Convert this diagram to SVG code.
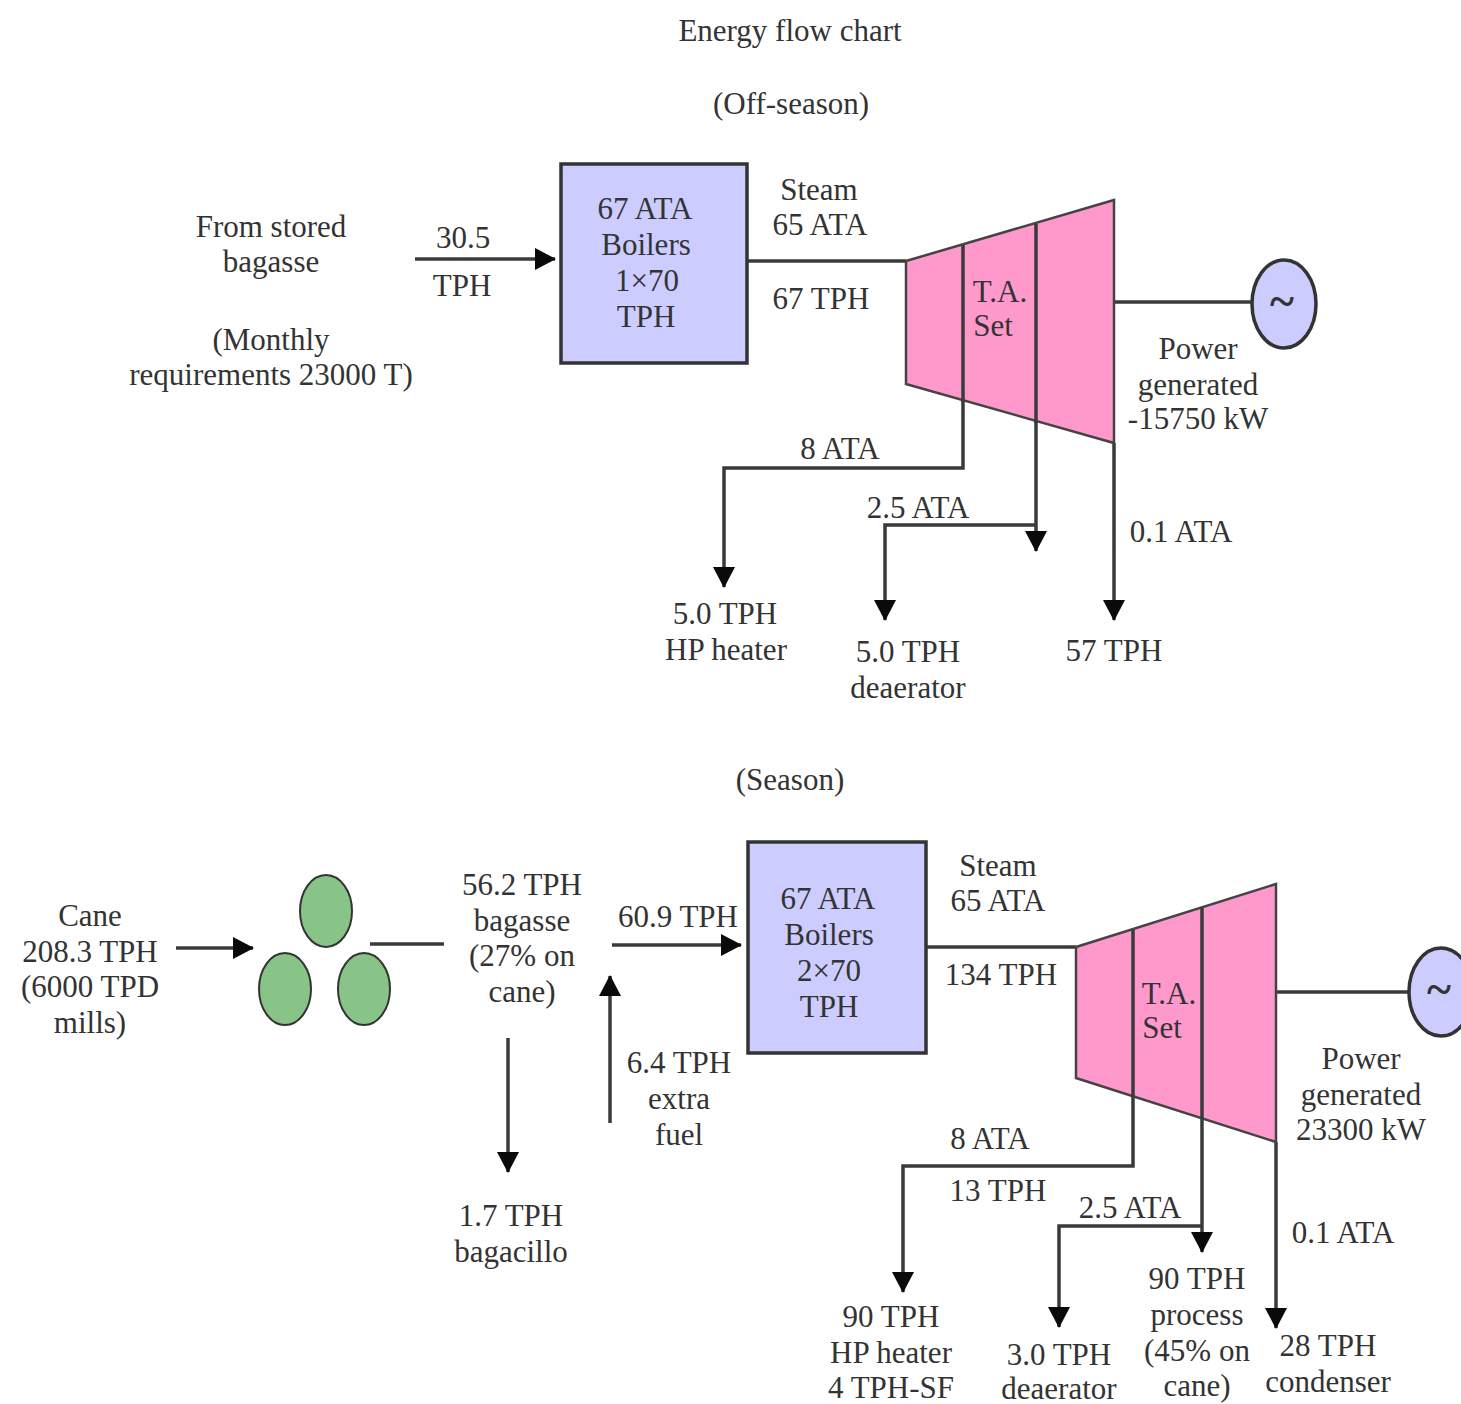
<svg xmlns="http://www.w3.org/2000/svg" width="1461" height="1404" viewBox="0 0 1461 1404">
<defs>
<marker id="a" markerUnits="userSpaceOnUse" markerWidth="24" markerHeight="24" refX="20" refY="11" orient="auto"><path d="M0 0L21 11L0 22Z" fill="#0a0a0a"/></marker>
</defs>
<style>
text{font-family:"Liberation Serif","Times New Roman",serif;font-size:31px;fill:#333;text-anchor:middle}
.l{fill:none;stroke:#3a3a3a;stroke-width:3.5}
.b{fill:#ccccff;stroke:#333;stroke-width:3.5}
.t{fill:#ff99cc;stroke:#444;stroke-width:2.5}
.g{fill:#88c488;stroke:#333;stroke-width:2}
.s{font-size:46px;font-weight:bold}
</style>
<rect width="1461" height="1404" fill="#fff"/>
<g id="titles"><text x="790" y="41">Energy flow chart</text><text x="791" y="114">(Off-season)</text><text x="790" y="790">(Season)</text></g>
<g id="connectors">
<path class="l" marker-end="url(#a)" d="M415 259H555"/>
<path class="l" d="M747 261H906"/>
<path class="l" d="M1114 302H1254"/>
<path class="l" marker-end="url(#a)" d="M963 385V468H724V587"/>
<path class="l" marker-end="url(#a)" d="M1036 420V551"/>
<path class="l" marker-end="url(#a)" d="M1036 525H885V620"/>
<path class="l" marker-end="url(#a)" d="M1114 443V620"/>
<path class="l" marker-end="url(#a)" d="M176 948H253"/>
<path class="l" d="M370 944H444"/>
<path class="l" marker-end="url(#a)" d="M612 945H741"/>
<path class="l" marker-end="url(#a)" d="M610 1123V976"/>
<path class="l" marker-end="url(#a)" d="M508 1038V1172"/>
<path class="l" d="M926 947H1076"/>
<path class="l" d="M1276 992H1411"/>
<path class="l" marker-end="url(#a)" d="M1133 1095V1166H903V1292"/>
<path class="l" marker-end="url(#a)" d="M1202 1120V1252"/>
<path class="l" marker-end="url(#a)" d="M1202 1226H1059V1327"/>
<path class="l" marker-end="url(#a)" d="M1276 1142V1328"/>
</g>
<g id="source-offseason"><text x="271" y="237">From stored</text><text x="271" y="272">bagasse</text><text x="271" y="350">(Monthly</text><text x="271" y="385">requirements 23000 T)</text><text x="463" y="248">30.5</text><text x="462" y="296">TPH</text></g>
<g id="boiler-offseason"><rect class="b" x="561" y="164" width="186" height="199"/><text x="645" y="219">67 ATA</text><text x="646" y="255">Boilers</text><text x="647" y="291">1×70</text><text x="646" y="327">TPH</text></g>
<g id="steam-offseason"><text x="819" y="200">Steam</text><text x="820" y="235">65 ATA</text><text x="821" y="309">67 TPH</text></g>
<g id="turbine-offseason"><path class="t" d="M906 261L1114 200V443L906 384Z"/><path class="l" d="M963 245V402M1036 224V423"/><text x="1000" y="302">T.A.</text><text x="993" y="336">Set</text></g>
<g id="generator-offseason"><ellipse class="b" cx="1284" cy="304" rx="32" ry="44"/><text class="s" x="1282" y="317">~</text></g>
<g id="power-offseason"><text x="1198" y="359">Power</text><text x="1198" y="395">generated</text><text x="1198" y="429">-15750 kW</text></g>
<g id="outputs-offseason"><text x="840" y="459">8 ATA</text><text x="918" y="518">2.5 ATA</text><text x="1181" y="542">0.1 ATA</text><text x="725" y="624">5.0 TPH</text><text x="726" y="660">HP heater</text><text x="908" y="662">5.0 TPH</text><text x="908" y="698">deaerator</text><text x="1114" y="661">57 TPH</text></g>
<g id="cane"><text x="90" y="926">Cane</text><text x="90" y="962">208.3 TPH</text><text x="90" y="997">(6000 TPD</text><text x="90" y="1033">mills)</text></g>
<g id="mills"><ellipse class="g" cx="326" cy="911" rx="26" ry="36"/><ellipse class="g" cx="285" cy="989" rx="26" ry="36"/><ellipse class="g" cx="364" cy="989" rx="26" ry="36"/></g>
<g id="bagasse"><text x="522" y="895">56.2 TPH</text><text x="522" y="931">bagasse</text><text x="522" y="966">(27% on</text><text x="522" y="1002">cane)</text><text x="678" y="927">60.9 TPH</text><text x="679" y="1073">6.4 TPH</text><text x="679" y="1109">extra</text><text x="679" y="1145">fuel</text><text x="511" y="1226">1.7 TPH</text><text x="511" y="1262">bagacillo</text></g>
<g id="boiler-season"><rect class="b" x="748" y="842" width="178" height="211"/><text x="828" y="909">67 ATA</text><text x="829" y="945">Boilers</text><text x="829" y="981">2×70</text><text x="829" y="1017">TPH</text></g>
<g id="steam-season"><text x="998" y="876">Steam</text><text x="998" y="911">65 ATA</text><text x="1001" y="985">134 TPH</text></g>
<g id="turbine-season"><path class="t" d="M1076 947L1276 884V1142L1076 1078Z"/><path class="l" d="M1133 930V1097M1202 907V1120"/><text x="1169" y="1004">T.A.</text><text x="1162" y="1038">Set</text></g>
<g id="generator-season"><ellipse class="b" cx="1441" cy="992" rx="32" ry="44"/><text class="s" x="1439" y="1005">~</text></g>
<g id="power-season"><text x="1361" y="1069">Power</text><text x="1361" y="1105">generated</text><text x="1361" y="1140">23300 kW</text></g>
<g id="outputs-season"><text x="990" y="1149">8 ATA</text><text x="998" y="1201">13 TPH</text><text x="1130" y="1218">2.5 ATA</text><text x="1343" y="1243">0.1 ATA</text><text x="891" y="1327">90 TPH</text><text x="891" y="1363">HP heater</text><text x="891" y="1398">4 TPH-SF</text><text x="1059" y="1365">3.0 TPH</text><text x="1059" y="1399">deaerator</text><text x="1197" y="1289">90 TPH</text><text x="1197" y="1325">process</text><text x="1197" y="1361">(45% on</text><text x="1197" y="1396">cane)</text><text x="1328" y="1356">28 TPH</text><text x="1328" y="1392">condenser</text></g>
</svg>
